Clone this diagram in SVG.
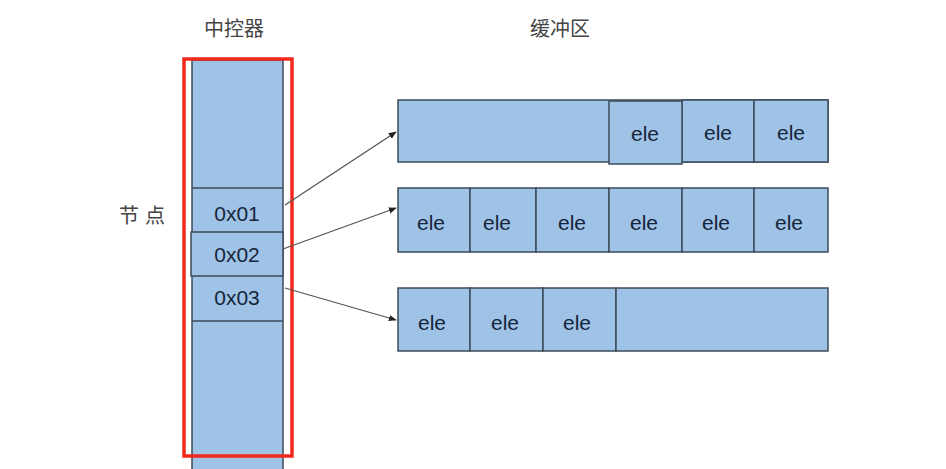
<svg xmlns="http://www.w3.org/2000/svg" width="946" height="469" viewBox="0 0 946 469">
<style>
.c{fill:#9fc2e7;stroke:#3d4b5a;stroke-width:1.5}
.t{font-family:"Liberation Sans",Arial,sans-serif;font-size:21px;fill:#16263a;text-anchor:middle;dominant-baseline:central}
.h{font-family:"Noto Sans CJK SC",sans-serif;font-size:20px;fill:#444;text-anchor:middle;dominant-baseline:central}
.a{stroke:#555;stroke-width:1.3;fill:none;marker-end:url(#ar)}
</style>
<defs>
<marker id="ar" viewBox="0 0 10 10" refX="9" refY="5" markerWidth="8" markerHeight="8" orient="auto" markerUnits="userSpaceOnUse">
<path d="M0,1 L10,5 L0,9 z" fill="#222"/>
</marker>
</defs>
<rect width="946" height="469" fill="#fff"/>
<text class="h" x="234" y="27">中控器</text>
<text class="h" x="560" y="27">缓冲区</text>
<text class="h" x="145" y="214" letter-spacing="6">节点</text>
<g id="controller">
<rect class="c" x="192" y="60" width="91" height="420"/>
<line x1="192" y1="188" x2="283" y2="188" stroke="#3d4b5a" stroke-width="1.5"/>
<line x1="192" y1="321" x2="283" y2="321" stroke="#3d4b5a" stroke-width="1.5"/>
<text class="t" x="237" y="213">0x01</text>
<rect class="c" x="191" y="232" width="92" height="44"/>
<text class="t" x="237" y="254">0x02</text>
<text class="t" x="237" y="297">0x03</text>
</g>
<rect id="highlight" x="184" y="59" width="108" height="397" fill="none" stroke="#f2281c" stroke-width="3.5"/>
<g id="buffer1">
<rect class="c" x="398" y="100" width="430" height="62"/>
<rect class="c" x="682" y="100" width="72" height="62"/>
<rect class="c" x="754" y="100" width="74" height="62"/>
<rect class="c" x="609" y="101" width="73" height="63"/>
<text class="t" x="645" y="133">ele</text>
<text class="t" x="718" y="132">ele</text>
<text class="t" x="791" y="132">ele</text>
</g>
<g id="buffer2">
<rect class="c" x="398" y="188" width="72" height="64"/>
<rect class="c" x="470" y="188" width="66" height="64"/>
<rect class="c" x="536" y="188" width="73" height="64"/>
<rect class="c" x="609" y="188" width="73" height="64"/>
<rect class="c" x="682" y="188" width="72" height="64"/>
<rect class="c" x="754" y="188" width="74" height="64"/>
<text class="t" x="431" y="222">ele</text>
<text class="t" x="497" y="222">ele</text>
<text class="t" x="572" y="222">ele</text>
<text class="t" x="644" y="222">ele</text>
<text class="t" x="716" y="222">ele</text>
<text class="t" x="789" y="222">ele</text>
</g>
<g id="buffer3">
<rect class="c" x="398" y="288" width="72" height="63"/>
<rect class="c" x="470" y="288" width="73" height="63"/>
<rect class="c" x="543" y="288" width="73" height="63"/>
<rect class="c" x="616" y="288" width="212" height="63"/>
<text class="t" x="432" y="322">ele</text>
<text class="t" x="505" y="322">ele</text>
<text class="t" x="577" y="322">ele</text>
</g>
<g id="connectors">
<line class="a" x1="285" y1="205" x2="396" y2="132"/>
<line class="a" x1="283" y1="249" x2="396" y2="208"/>
<line class="a" x1="285" y1="288" x2="396" y2="320"/>
</g>
</svg>
